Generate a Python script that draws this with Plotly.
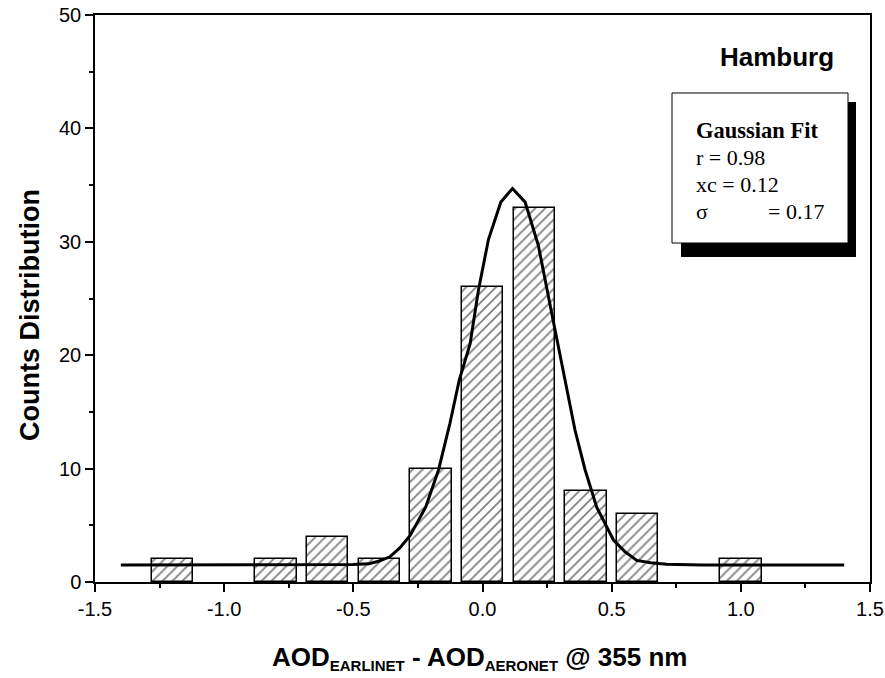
import plotly.graph_objects as go

# ---- data ----
bin_centers = [-1.2, -0.8, -0.6, -0.4, -0.2, 0.0, 0.2, 0.4, 0.6, 1.0]
counts = [2, 2, 4, 2, 10, 26, 33, 8, 6, 2]
bar_width = 0.16

fit_x = [-1.4, -0.55, -0.5, -0.44, -0.4, -0.36, -0.32, -0.28, -0.22, -0.17, -0.126, -0.09,
         -0.048, -0.016, 0.023, 0.071, 0.116, 0.165, 0.216, 0.268, 0.32, 0.358, 0.397,
         0.442, 0.507, 0.55, 0.597, 0.65, 0.713, 0.85, 1.4]
fit_y = [1.5, 1.5, 1.55, 1.6, 1.85, 2.2, 3.0, 4.1, 6.6, 9.9, 14.0, 17.8,
         21.0, 25.7, 30.2, 33.5, 34.7, 33.5, 29.7, 23.7, 17.8, 13.4, 9.9,
         6.6, 3.7, 2.7, 1.9, 1.7, 1.56, 1.5, 1.5]

x_ticks = [-1.5, -1.0, -0.5, 0.0, 0.5, 1.0, 1.5]
y_ticks = [0, 10, 20, 30, 40, 50]

fit_title = "Gaussian Fit"
fit_lines = ["r = 0.98", "xc = 0.12"]
sigma_label, sigma_value = "σ", "= 0.17"
site = "Hamburg"
y_label = "Counts Distribution"
x_label = ('AOD<sub><span style="font-size:15px">EARLINET</span></sub> - '
           'AOD<sub><span style="font-size:15px">AERONET</span></sub> @ 355 nm')

# ---- layout geometry (pixels) ----
W, H = 885, 678
ML, MR, MT, MB = 95, 15, 15, 96
PW, PH = W - ML - MR, H - MT - MB


def px(xp):
    return (xp - ML) / PW


def py(yp):
    return (H - MB - yp) / PH


SANS = "Liberation Sans, Arial"
SERIF = "Liberation Serif, Times New Roman"

fig = go.Figure()
fig.add_trace(go.Bar(
    x=bin_centers, y=counts, width=bar_width,
    marker=dict(color="white", line=dict(color="black", width=1.5),
                pattern=dict(shape="/", fgcolor="black", bgcolor="white", size=7, solidity=0.25)),
    showlegend=False,
))
fig.add_trace(go.Scatter(
    x=fit_x, y=fit_y, mode="lines",
    line=dict(color="black", width=3),
    showlegend=False,
))

axis_common = dict(
    showline=True, linecolor="black", linewidth=1.5, mirror=True,
    ticks="outside", ticklen=8, tickwidth=1.5, tickcolor="black",
    showgrid=False, zeroline=False, automargin=False,
    tickfont=dict(family=SANS, size=20, color="black"),
)

fig.update_layout(
    width=W, height=H,
    margin=dict(l=ML, r=MR, t=MT, b=MB),
    paper_bgcolor="white", plot_bgcolor="white",
    xaxis=dict(
        range=[-1.5, 1.5], tickvals=x_ticks, ticktext=[f"{v:.1f}" for v in x_ticks],
        minor=dict(dtick=0.25, ticks="outside", ticklen=4, tickwidth=1.5, tickcolor="black"),
        **axis_common,
    ),
    yaxis=dict(
        range=[0, 50], tickvals=y_ticks,
        minor=dict(dtick=5, ticks="outside", ticklen=4, tickwidth=1.5, tickcolor="black"),
        **axis_common,
    ),
    bargap=0,
)

# axis titles as annotations (exact placement)
fig.add_annotation(xref="paper", yref="paper", x=px(479), y=py(658), xanchor="center", yanchor="middle",
                   text=f"<b>{x_label}</b>", showarrow=False,
                   font=dict(family=SANS, size=26, color="black"))
fig.add_annotation(xref="paper", yref="paper", x=px(30), y=py(315), xanchor="center", yanchor="middle",
                   text=f"<b>{y_label}</b>", showarrow=False, textangle=-90,
                   font=dict(family=SANS, size=27, color="black"))

# legend-style box with drop shadow
fig.add_shape(type="rect", xref="paper", yref="paper",
              x0=px(681), x1=px(856), y0=py(257), y1=py(102),
              fillcolor="black", line=dict(width=0), layer="above")
fig.add_shape(type="rect", xref="paper", yref="paper",
              x0=px(672), x1=px(848), y0=py(243), y1=py(93),
              fillcolor="white", line=dict(color="black", width=1), layer="above")

fig.add_annotation(xref="paper", yref="paper", x=px(694), y=py(130), xanchor="left", yanchor="middle",
                   text=f"<b>{fit_title}</b>", showarrow=False,
                   font=dict(family=SERIF, size=22.5, color="black"))
for i, t in enumerate(fit_lines):
    fig.add_annotation(xref="paper", yref="paper", x=px(694), y=py(157 + 27 * i), xanchor="left",
                       yanchor="middle", text=t, showarrow=False,
                       font=dict(family=SERIF, size=22, color="black"))
fig.add_annotation(xref="paper", yref="paper", x=px(694), y=py(211), xanchor="left", yanchor="middle",
                   text=sigma_label, showarrow=False, font=dict(family=SERIF, size=22, color="black"))
fig.add_annotation(xref="paper", yref="paper", x=px(766), y=py(211), xanchor="left", yanchor="middle",
                   text=sigma_value, showarrow=False, font=dict(family=SERIF, size=22, color="black"))

fig.add_annotation(xref="paper", yref="paper", x=px(836), y=py(57), xanchor="right", yanchor="middle",
                   text=f"<b>{site}</b>", showarrow=False,
                   font=dict(family=SANS, size=26, color="black"))

fig.write_html("out.html", post_script="document.body.style.margin='0';")
